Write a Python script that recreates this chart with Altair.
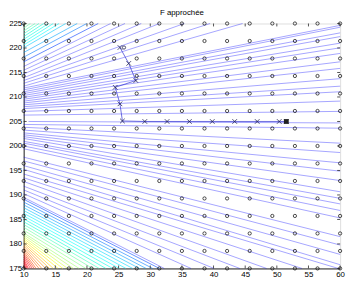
import altair as alt
import pandas as pd

# ---- grid of sample points (15 x 15) ----
grid_x = [10, 13.571, 17.143, 20.714, 24.286, 27.857, 31.429, 35, 38.571, 42.143, 45.714, 49.286, 52.857, 56.429, 60]
grid_y = [175, 178.571, 182.143, 185.714, 189.286, 192.857, 196.429, 200, 203.571, 207.143, 210.714, 214.286, 217.857, 221.429, 225]

# ---- contour lines (read off the picture as straight segments) ----
# upper lines: from left edge (x=10) to top edge (y=225)
ut_left_y = [224.62, 224.05, 223.47, 222.90, 222.33, 221.76, 221.18, 220.61, 220.04, 219.08, 218.13,
             217.18, 216.22, 215.46, 214.69, 213.93, 213.36, 212.79, 212.21]
ut_top_x = [10.45, 11.06, 11.81, 12.42, 13.17, 13.93, 14.68, 15.59, 16.65, 18.46, 19.97,
            21.78, 23.75, 26.01, 28.58, 31.45, 35.38, 39.46, 44.59]
ut_lvl = [0.54, 0.52, 0.50, 0.48, 0.46, 0.44, 0.42, 0.40, 0.32, 0.27, 0.22, 0.17, 0.12, 0.05, 0, 0, 0, 0, 0]

# upper lines: from left edge to right edge (x=60)
ur_left_y = [211.83, 211.45, 211.07, 210.69, 210.31, 209.92, 209.54, 209.16, 208.78, 208.40, 208.02, 207.63, 207.06, 206.30]
ur_right_y = [224.62, 224.24, 223.09, 222.33, 220.99, 220.04, 218.89, 217.18, 215.84, 213.74, 212.21, 211.07, 209.16, 207.06]

# middle line near y=205
mid_x = [10.76, 60]
mid_y = [205.0, 204.7]

# lower lines: from left edge to right edge
lr_left_y = [204.39, 203.82, 203.24, 202.67, 202.29, 201.91, 201.53, 200.95, 200.57, 200.00, 199.43, 197.71, 196.95, 195.99, 195.23]
lr_right_y = [203.63, 200.57, 198.66, 196.56, 194.85, 192.94, 190.65, 189.31, 188.17, 186.83, 185.31, 181.49, 179.77, 177.86, 175.76]

# lower lines: from left edge to bottom edge (y=175)
lb_left_y = [194.27, 193.51, 192.75, 191.79, 191.03, 190.27, 189.50,
             189.12, 188.55, 187.98, 187.40, 186.83, 186.26, 185.69, 185.11, 184.54, 183.97, 183.40, 182.82,
             182.25, 181.87, 181.49, 181.11, 180.73, 180.34, 179.96, 179.58, 179.20, 178.82, 178.44, 178.05,
             177.67, 177.29, 176.91, 176.53, 176.15, 175.76, 175.38]
lb_bottom_x = [59.70, 53.96, 48.37, 44.14, 40.06, 36.44, 32.21,
               31.45, 30.39, 29.34, 28.28, 27.22, 26.16, 25.11, 24.05, 22.99, 21.93, 20.88, 19.82,
               18.76, 17.86, 16.95, 16.19, 15.44, 14.68, 14.08, 13.47, 12.87, 12.42, 11.96, 11.66,
               11.36, 11.06, 10.76, 10.60, 10.45, 10.30, 10.15]
lb_lvl = [0, 0, 0, 0, 0, 0, 0,
          0.18, 0.22, 0.26, 0.30, 0.34, 0.37, 0.40, 0.43, 0.46, 0.49, 0.52, 0.55,
          0.58, 0.61, 0.64, 0.67, 0.70, 0.73, 0.76, 0.79, 0.82, 0.85, 0.88, 0.90,
          0.92, 0.94, 0.96, 0.97, 0.98, 0.99, 1.0]

# ---- optimisation path ----
path_x = [25.21, 26.60, 27.72, 24.46, 25.21, 25.60, 29.14, 32.66, 36.18, 39.80, 43.34, 46.90, 50.38, 51.50]
path_y = [220.10, 216.85, 213.36, 211.97, 208.60, 205.10, 205.0, 205.0, 205.0, 205.0, 205.0, 205.0, 205.0, 205.0]
start_o = (25.85, 220.10)
end_pt = (51.50, 205.0)

x_ticks = [10, 15, 20, 25, 30, 35, 40, 45, 50, 55, 60]
y_ticks = [175, 180, 185, 190, 195, 200, 205, 210, 215, 220, 225]

# ---- build tables ----
rows = []
for ly, tx, lv in zip(ut_left_y, ut_top_x, ut_lvl):
    rows.append(dict(x=10, y=ly, x2=tx, y2=225, lvl=lv))
for ly, ry in zip(ur_left_y, ur_right_y):
    rows.append(dict(x=10, y=ly, x2=60, y2=ry, lvl=0))
rows.append(dict(x=mid_x[0], y=mid_y[0], x2=mid_x[1], y2=mid_y[1], lvl=0))
for ly, ry in zip(lr_left_y, lr_right_y):
    rows.append(dict(x=10, y=ly, x2=60, y2=ry, lvl=0))
for ly, bx, lv in zip(lb_left_y, lb_bottom_x, lb_lvl):
    rows.append(dict(x=10, y=ly, x2=bx, y2=175, lvl=lv))
seg = pd.DataFrame(rows)
seg_blue = seg[seg["lvl"] <= 0.12]
seg_col = seg[seg["lvl"] > 0.12]

grid = pd.DataFrame([dict(x=gx, y=gy) for gy in grid_y for gx in grid_x])
path = pd.DataFrame(dict(x=path_x, y=path_y, i=list(range(len(path_x)))))

W, H = 323, 250
FONT = "Liberation Sans"

sx = alt.Scale(domain=[10, 60], nice=False, zero=False)
sy = alt.Scale(domain=[175, 225], nice=False, zero=False)
ax_x = alt.Axis(title=None, values=x_ticks, ticks=False, labelFontSize=8, labelFont=FONT,
                labelColor="black", labelPadding=2, labelFlush=False, labelOverlap=False,
                domainColor="#262626", grid=False)
ax_y = alt.Axis(title=None, values=y_ticks, ticks=False, labelFontSize=8, labelFont=FONT,
                labelColor="black", labelPadding=2, labelFlush=False, labelOverlap=False,
                domainColor="#262626", grid=False)
X = alt.X("x:Q", scale=sx, axis=ax_x)
Y = alt.Y("y:Q", scale=sy, axis=ax_y)

jet = alt.Scale(domain=[0, 0.15, 0.4, 0.55, 0.68, 0.8, 0.92],
                range=["#0000ff", "#0000ff", "#00ffff", "#80ff80", "#ffff00", "#ff8000", "#ff0000"])

lines_b = alt.Chart(seg_blue).mark_rule(strokeWidth=0.6, opacity=0.6).encode(
    x=X, y=Y, x2="x2:Q", y2="y2:Q", color=alt.Color("lvl:Q", scale=jet, legend=None))
lines_c = alt.Chart(seg_col).mark_rule(strokeWidth=0.75, opacity=0.8).encode(
    x=X, y=Y, x2="x2:Q", y2="y2:Q", color=alt.Color("lvl:Q", scale=jet, legend=None))

pts = alt.Chart(grid).mark_point(shape="circle", size=11, filled=False, color="black",
                                 strokeWidth=0.7, opacity=1).encode(x=X, y=Y)

path_line = alt.Chart(path).mark_line(color="#3030d0", strokeWidth=0.7).encode(x=X, y=Y, order="i:Q")
xmark = "M-1,-1L1,1M1,-1L-1,1"
path_pts = alt.Chart(path).mark_point(shape=xmark, size=22, filled=False, color="#202050",
                                      strokeWidth=0.8, opacity=1).encode(x=X, y=Y)
start_df = pd.DataFrame(dict(x=[start_o[0]], y=[start_o[1]]))
start_pt = alt.Chart(start_df).mark_point(shape="circle", size=11, filled=False, color="#202050",
                                          strokeWidth=0.8, opacity=1).encode(x=X, y=Y)
end_df = pd.DataFrame(dict(x=[end_pt[0]], y=[end_pt[1]]))
end_mark = alt.Chart(end_df).mark_point(shape="square", size=24, filled=True, color="#222222",
                                        opacity=1).encode(x=X, y=Y)

xt = pd.DataFrame(dict(x=x_ticks))
yt = pd.DataFrame(dict(y=y_ticks))
tick_b = alt.Chart(xt).mark_rule(color="#262626", strokeWidth=0.8).encode(x=X, y=alt.value(H), y2=alt.value(H - 3))
tick_t = alt.Chart(xt).mark_rule(color="#262626", strokeWidth=0.8).encode(x=X, y=alt.value(0), y2=alt.value(3))
tick_l = alt.Chart(yt).mark_rule(color="#262626", strokeWidth=0.8).encode(y=Y, x=alt.value(0), x2=alt.value(3))
tick_r = alt.Chart(yt).mark_rule(color="#262626", strokeWidth=0.8).encode(y=Y, x=alt.value(W), x2=alt.value(W - 3))

chart = alt.layer(lines_b, lines_c, pts, path_line, path_pts, start_pt, end_mark,
                  tick_b, tick_t, tick_l, tick_r).properties(
    width=W, height=H,
    autosize=alt.AutoSizeParams(type="none"),
    padding={"left": 16, "top": 13, "right": 6, "bottom": 10},
    title=alt.TitleParams("F approchée", fontSize=8, font=FONT, fontWeight="normal", offset=3,
                          anchor="middle", color="black"),
).configure_view(stroke="#262626", strokeWidth=1).configure(background="white")

chart.save("out.html", embed_options={"renderer": "svg", "actions": False})
